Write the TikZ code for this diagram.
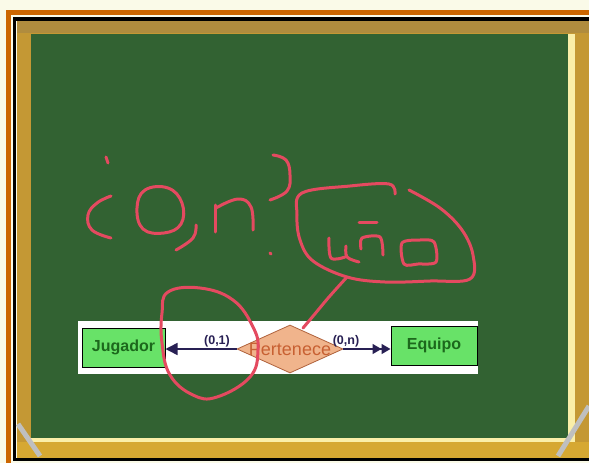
\documentclass[tikz,border=0pt]{standalone}
\usepackage{fontspec}
\setmainfont{Liberation Sans}
\usetikzlibrary{shapes.geometric,arrows.meta}
\definecolor{paper}{RGB}{250,250,232}
\definecolor{rim}{RGB}{204,102,0}
\definecolor{frame}{RGB}{196,152,52}
\definecolor{frametop}{RGB}{176,140,62}
\definecolor{framebottom}{RGB}{214,168,50}
\definecolor{glint}{RGB}{250,238,168}
\definecolor{board}{RGB}{50,98,50}
\definecolor{boxgreen}{RGB}{104,226,104}
\definecolor{textgreen}{RGB}{28,104,28}
\definecolor{salmon}{RGB}{240,180,140}
\definecolor{diaedge}{RGB}{176,98,60}
\definecolor{relfont}{RGB}{200,96,50}
\definecolor{navy}{RGB}{40,32,84}
\definecolor{marker}{RGB}{228,74,96}

\begin{document}
\begin{tikzpicture}[x=1pt, y=-1pt,
    entity/.style={draw=black, line width=1pt, fill=boxgreen, text=textgreen,
      font=\fontsize{16}{18}\selectfont\bfseries, minimum height=39pt, inner sep=0pt},
    relation/.style={diamond, draw=diaedge, line width=0.8pt, fill=salmon, text=relfont,
      font=\fontsize{18}{20}\selectfont, minimum width=106pt, minimum height=48pt, inner sep=0pt},
    card/.style={text=navy, font=\fontsize{12.5}{13}\selectfont\bfseries, inner sep=1pt},
    link/.style={draw=navy, line width=1.5pt},
    marker/.style={draw=marker, line width=3pt, line cap=round, line join=round}]
    \useasboundingbox (0,0) rectangle (589,463);
    \clip (0,0) rectangle (589,463);

    % Frame
    \fill[paper] (0,0) rectangle (589,463);
    \draw[rim, line width=5pt] (8.5,470) -- (8.5,12.5) -- (600,12.5);
    \draw[black, line width=3.5pt] (14.7,19) rectangle (600,459.5);
    \fill[frame] (16.5,20.8) rectangle (600,457.7);
    \fill[frametop] (16.5,20.8) rectangle (600,33);
    \fill[board] (31,34) rectangle (568,438);
    \fill[glint] (568,34) rectangle (575,441);
    \fill[glint] (31,438) rectangle (575,441.5);
    \fill[framebottom] (16.5,441.5) rectangle (600,457.7);
    \draw[gray!50, line width=5pt] (18,424) -- (40,456);
    \draw[gray!50, line width=5pt] (589,406) -- (558,456);

    % Panel
    \fill[white] (78,321) rectangle (478,374);

    % Nodes
    \node[entity, minimum width=83pt] (jugador) at (123.5,347.5) {Jugador};
    \node[entity, minimum width=86pt] (equipo) at (434,345.5) {Equipo};
    \node[relation] (pertenece) at (290,349) {\makebox[0pt]{Pertenece}};
    \node[card] (c01) at (217,341.5) {(0,1)};
    \node[card] (c0n) at (346,341.5) {(0,n)};

    % Arrows
    \draw[link, -{Triangle[length=12pt,width=12pt]}] (pertenece.west) -- (jugador.east |- pertenece.west);
    \draw[link, -{Triangle[length=9pt,width=10pt]Triangle[length=9pt,width=10pt]}]
      (pertenece.east) -- (equipo.west |- pertenece.east);

    % Chalk
    \draw[marker] (106,157) -- (108,163);
    \draw[marker] plot[smooth, tension=0.7] coordinates {(111,196) (97,203) (88,215) (92,230) (111,238)};
    \draw[marker] plot[smooth cycle, tension=0.7] coordinates {(145,190) (168,188) (182,203) (181,224) (164,233) (143,229) (137,208)};
    \draw[marker] plot[smooth, tension=0.7] coordinates {(196,225) (193,238) (176,250)};
    \draw[marker] (215,205) -- (215,232);
    \draw[marker] plot[smooth, tension=0.7] coordinates {(216,208) (238,199) (251,207) (253,230)};
    \draw[marker] plot[smooth, tension=0.7] coordinates {(273,155) (286,160) (290,175) (287,191) (270,200)};
    \draw[marker] (270,253) -- (271,254);
    \draw[marker] plot[smooth, tension=0.6] coordinates {(395,194) (389,184) (350,186) (302,193) (297,215) (300,240) (313,261) (347,277) (385,282) (430,281) (470,279) (473,255) (462,230) (440,208) (409,190)};
    \draw[marker] plot[smooth, tension=0.6] coordinates {(347,277) (329,297) (314,315) (303,328)};
    \draw[marker] plot[smooth, tension=0.6] coordinates {(329,238) (331,258) (345,257)};
    \draw[marker] plot[smooth, tension=0.6] coordinates {(346,246) (347,257) (359,262)};
    \draw[marker] (359,222) -- (377,222);
    \draw[marker] plot[smooth, tension=0.5] coordinates {(361,249) (362,238) (380,237) (383,255)};
    \draw[marker] plot[smooth cycle, tension=0.5] coordinates {(402,243) (420,240) (434,242) (436,262) (418,264) (404,264)};
    \draw[marker] plot[smooth cycle, tension=0.7] coordinates {(168,292) (200,288) (233,300) (253,327) (258,350) (250,377) (217,397) (193,395) (170,375) (162,343) (162,313)};
\end{tikzpicture}
\end{document}
